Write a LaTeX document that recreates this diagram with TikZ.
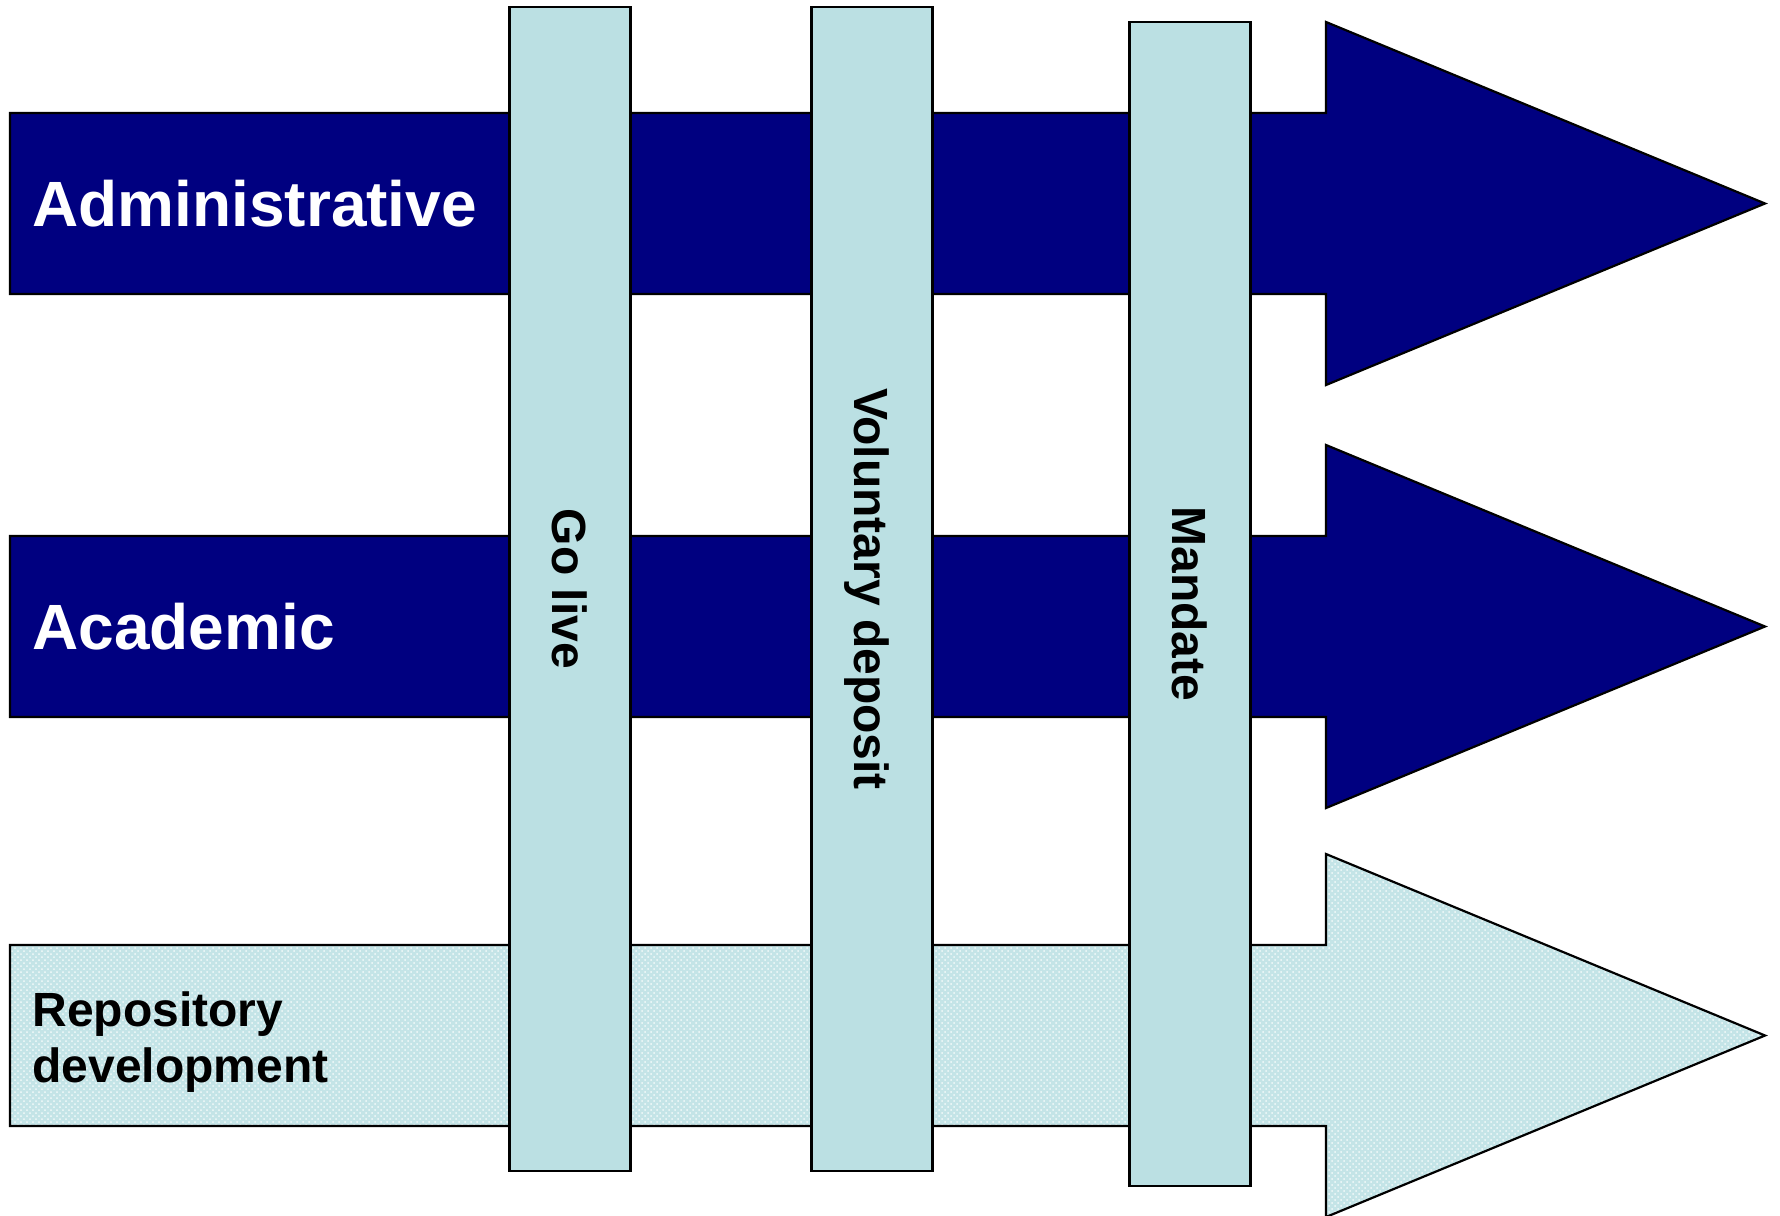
\documentclass[tikz,border=0pt]{standalone}
\usepackage{fontspec}
\setmainfont{Liberation Sans}
\usetikzlibrary{patterns}
\definecolor{navyband}{RGB}{0,0,128}
\definecolor{stagefill}{RGB}{187,224,227}
\definecolor{repofill}{RGB}{196,228,231}

\begin{document}
\begin{tikzpicture}[
    x=0.5pt, y=-0.5pt,
    band/.style={draw=black, line width=1.1pt, fill=#1},
    repoband/.style={draw=black, line width=1.1pt, preaction={fill=repofill}, pattern=crosshatch dots, pattern color=white!80!repofill},
    stage/.style={rectangle, draw=black, line width=1.1pt, fill=stagefill, rotate=-90, minimum width=582pt, minimum height=60.5pt, inner sep=0pt, font=\bfseries\fontsize{24}{28}\selectfont, text height=17.2pt, text depth=0pt},
    bigtitle/.style={anchor=base west, inner sep=0pt, text=white, font=\bfseries\fontsize{32}{36}\selectfont},
    smalltitle/.style={anchor=base west, inner sep=0pt, align=left, font=\bfseries\fontsize{24}{28}\selectfont}
]
\useasboundingbox (0,0) rectangle (1780,1215);

% Bands
\draw[band=navyband] (10,113) -| (1326,22) -- (1765,203.5) -- (1326,385) |- (10,294) -- cycle;
\draw[band=navyband] (10,536) -| (1326,445) -- (1765,626.5) -- (1326,808) |- (10,717) -- cycle;
\draw[repoband] (10,945) -| (1326,854) -- (1765,1035.5) -- (1326,1217) |- (10,1126) -- cycle;

% Band labels
\node[bigtitle] (admin) at (32,226) {Administrative};
\node[bigtitle] (academic) at (32,649) {Academic};
\node[smalltitle] (repo) at (32,1082) {Repository\\development};

% Stages
\node[stage] (golive) at (570,589) {Go live};
\node[stage] (voluntary) at (872,589) {Voluntary deposit};
\node[stage] (mandate) at (1190,604) {Mandate};
\end{tikzpicture}
\end{document}
